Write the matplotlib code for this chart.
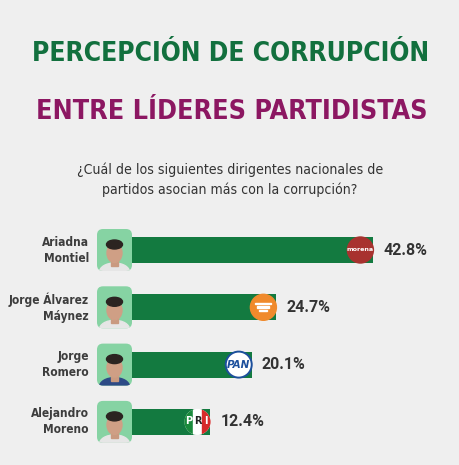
import numpy as np
import matplotlib
matplotlib.use("Agg")
import matplotlib.pyplot as plt
import matplotlib.transforms as mtransforms
from matplotlib import font_manager
from matplotlib.patches import Circle, Rectangle, FancyBboxPatch, Ellipse

# --- data ---
names = ["Ariadna\nMontiel", "Jorge Álvarez\nMáynez", "Jorge\nRomero", "Alejandro\nMoreno"]
values = [42.8, 24.7, 20.1, 12.4]
labels = ["42.8%", "24.7%", "20.1%", "12.4%"]
parties = ["morena", "mc", "pan", "pri"]

title1 = "PERCEPCIÓN DE CORRUPCIÓN"
title2 = "ENTRE LÍDERES PARTIDISTAS"
subtitle1 = "¿Cuál de los siguientes dirigentes nacionales de"
subtitle2 = "partidos asocian más con la corrupción?"

# --- style ---
W, H = 460, 465
bg = "#efefef"
green = "#12703e"
magenta = "#8c1762"
bar_green = "#137a40"
photo_green = "#86d3a3"
dark = "#333333"


def narrowest():
    # look for the most condensed installed family that has a bold face
    best = ("DejaVu Sans", 500)
    for f in font_manager.fontManager.ttflist:
        st = f.stretch
        if isinstance(st, str):
            st = font_manager.stretch_dict.get(st, 500)
        nm = f.name
        if "Narrow" in nm or "Condensed" in nm:
            st = min(st, 300)
        w = f.weight if isinstance(f.weight, int) else font_manager.weight_dict.get(f.weight, 400)
        if w >= 600 and st < best[1]:
            best = (nm, st)
    return best


narrow_name, narrow_stretch = narrowest()
narrow = dict(family=[narrow_name, "DejaVu Sans"], fontstretch=narrow_stretch)

fig = plt.figure(figsize=(W / 100, H / 100), dpi=100)
fig.patch.set_facecolor(bg)

# overlay axes in pixel coordinates (header, photos, logos)
top = fig.add_axes([0, 0, 1, 1])
top.set_xlim(0, W)
top.set_ylim(H, 0)
top.axis("off")
top.patch.set_alpha(0)
top.set_zorder(3)

renderer = fig.canvas.get_renderer()


def fit(t, width_px):
    # scale the font size so the text spans the wanted width
    w = t.get_window_extent(renderer=renderer).width
    t.set_fontsize(t.get_fontsize() * width_px / w)


t1 = top.text(231, 54, title1, color=green, fontsize=30, fontweight="bold",
              ha="center", va="center", **narrow)
fit(t1, 397)
t2 = top.text(232, 112, title2, color=magenta, fontsize=30, fontweight="bold",
              ha="center", va="center", **narrow)
fit(t2, 390)
sub = dict(family=[narrow_name, "DejaVu Sans"], fontstretch=narrow_stretch)
s1 = top.text(230, 170, subtitle1, color=dark, fontsize=10, ha="center", va="center", **sub)
fit(s1, 304)
s2 = top.text(230, 190, subtitle2, color=dark, fontsize=10, ha="center", va="center", **sub)
fit(s2, 254)

# --- bar axes ---
px_per_unit = 5.36
left_px = 132
row_px = 57.3
first_row = 250
n = len(values)
ax_top = first_row - row_px / 2
ax_h = row_px * n
ax = fig.add_axes([left_px / W, 1 - (ax_top + ax_h) / H, (W - left_px) / W, ax_h / H])
x0 = -12 / px_per_unit
ax.set_xlim(x0, x0 + (W - left_px) / px_per_unit)
ax.set_ylim(n - 0.5, -0.5)
ax.axis("off")
ax.patch.set_alpha(0)

ypos = np.arange(n)
vals = np.array(values)
bar_h = 26 / row_px
ax.barh(ypos, vals - x0, left=x0, height=bar_h, color=bar_green, zorder=2)


def at(x, y, dx=0, dy=0):
    # pixel-sized drawing anchored at a data point of the bar axes
    return mtransforms.Affine2D().translate(dx, dy) + mtransforms.ScaledTranslation(x, y, ax.transData)


def put(patch, clip=None):
    top.add_patch(patch)
    if clip is not None:
        patch.set_clip_path(clip)
    return patch


r = 13
for i, (v, p) in enumerate(zip(vals, parties)):
    tr = at(v, i, -r, 0)
    if p == "morena":
        put(Circle((0, 0), r, transform=tr, color="#a8322f", zorder=3))
        top.text(0, 0.5, "morena", transform=tr, color="white", fontsize=4.6,
                 fontweight="bold", ha="center", va="center", zorder=4)
    elif p == "mc":
        put(Circle((0, 0), r, transform=tr, color="#f08a2c", zorder=3))
        for k, w in enumerate([16, 12, 8]):
            put(Rectangle((-w / 2, 3 - k * 3.5), w, 1.8, transform=tr, color="white", zorder=4))
    elif p == "pan":
        put(Circle((0, 0), r, transform=tr, facecolor="white",
                   edgecolor="#1c4f9c", lw=1.4, zorder=3))
        top.text(0, 0, "PAN", transform=tr, color="#1c4f9c", fontsize=7.5,
                 fontweight="bold", style="italic", ha="center", va="center", zorder=4)
    else:
        c = put(Circle((0, 0), r, transform=tr, facecolor="white", zorder=3))
        for k, col in enumerate(["#1a8a3c", "white", "#d62a2a"]):
            put(Rectangle((-r + k * 2 * r / 3, -r), 2 * r / 3, 2 * r, transform=tr,
                          color=col, zorder=3.5), clip=c)
        for k, ch in enumerate("PRI"):
            top.text(-r + (k + 0.5) * 2 * r / 3, 1, ch, transform=tr, fontsize=7,
                     fontweight="bold", color="white" if k != 1 else "#222222",
                     ha="center", va="center", zorder=4)

    # value label
    ax.annotate(labels[i], (v, i), xytext=(7.2, 0), textcoords="offset points",
                ha="left", va="center", fontsize=11.5, fontweight="bold",
                family=["Roboto", "DejaVu Sans"], color=dark, annotation_clip=False)

    # name
    ax.annotate(names[i], (x0, i), xytext=(-31, 0), textcoords="offset points",
                ha="right", va="center", fontsize=8.6, fontweight="bold",
                color="#3d3d3d", linespacing=1.3, annotation_clip=False, **narrow)

    # photo placeholder
    ptr = at(x0, i)
    box = put(FancyBboxPatch((-35, -21), 35, 42, boxstyle="round,pad=0,rounding_size=6",
                             transform=ptr, facecolor=photo_green, edgecolor="none", zorder=3))
    shirt_col = "#2d4a86" if i == 2 else "#e6e6e6"
    put(Ellipse((-17.5, -22), 30, 18, transform=ptr, color=shirt_col, zorder=3.2), clip=box)
    put(Rectangle((-21, -16), 7, 8, transform=ptr, color="#c99a80", zorder=3.3), clip=box)
    put(Ellipse((-17.5, -3), 15, 19, transform=ptr, color="#cf9f85", zorder=3.4), clip=box)
    put(Ellipse((-17.5, 5.5), 16, 9, transform=ptr, color="#2b2421", zorder=3.45), clip=box)

fig.savefig("out.png", dpi=100, facecolor=bg)
